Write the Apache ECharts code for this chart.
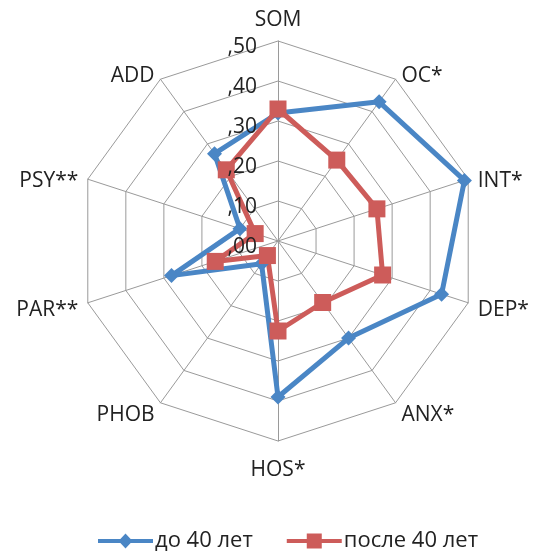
<!DOCTYPE html>
<html>
<head>
<meta charset="utf-8">
<script src="https://cdn.jsdelivr.net/npm/echarts@6/dist/echarts.min.js"></script>
<style>
html,body{margin:0;padding:0;background:#fff;}
#chart{width:533px;height:551px;}
</style>
</head>
<body>
<div id="chart"></div>
<script>
const categories = ['SOM','OC*','INT*','DEP*','ANX*','HOS*','PHOB','PAR**','PSY**','ADD'];
const seriesNames = ['до 40 лет','после 40 лет'];
const valuesUnder40 = [0.32,0.43,0.49,0.43,0.30,0.39,0.07,0.28,0.10,0.27];
const valuesOver40  = [0.33,0.25,0.26,0.275,0.19,0.225,0.045,0.165,0.06,0.22];
const tickValues = [0,0.1,0.2,0.3,0.4,0.5];
const tickLabels = [',00',',10',',20',',30',',40',',50'];

// ECharts radar places indicators counter-clockwise; reorder so they run clockwise
const order = [0].concat(categories.map((_, i) => i).slice(1).reverse());
const reorder = arr => order.map(i => arr[i]);

const FONT = '"Open Sans", "Noto Sans", sans-serif';
const blue = '#4a86c5', red = '#cd5c5a';
const iconDiamond = 'path://M0,5.5 L55,5.5 L55,9.5 L0,9.5 Z M27.5,0 L34.5,7.5 L27.5,15 L20.5,7.5 Z';
const iconSquare  = 'path://M0,5.5 L55,5.5 L55,9.5 L0,9.5 Z M20,0 L35,0 L35,15 L20,15 Z';

const chart = echarts.init(document.getElementById('chart'), null, {renderer:'canvas'});
chart.setOption({
  backgroundColor:'#fff',
  animation:false,
  textStyle:{fontFamily:FONT},
  legend:{
    left:93, top:525,
    itemWidth:55, itemHeight:15, itemGap:34,
    textStyle:{fontSize:22, color:'#222', fontFamily:FONT, padding:[0,0,0,-3]},
    data:[{name:seriesNames[0], icon:iconDiamond},{name:seriesNames[1], icon:iconSquare}]
  },
  radar:{
    center:[278,241], radius:200,
    startAngle:90,
    shape:'polygon',
    min:0, max:0.5, splitNumber:5,
    indicator:reorder(categories).map(n=>({name:n, min:0, max:0.5})),
    axisName:{
      color:'#222', fontSize:21, fontFamily:FONT,
      formatter:(name)=> name===categories[0] ? '{t|'+name+'}' : '{n|'+name+'}',
      rich:{
        t:{fontSize:21, fontFamily:FONT, color:'#222'},
        n:{fontSize:21, fontFamily:FONT, color:'#222', padding:[9,0,0,0]}
      }
    },
    nameGap:10,
    axisLine:{lineStyle:{color:'#9a9a9a', width:1}},
    splitLine:{lineStyle:{color:'#9a9a9a', width:1}},
    splitArea:{show:false},
    axisLabel:{show:false}
  },
  polar:{center:[278,241], radius:200},
  angleAxis:{type:'value', startAngle:90, min:0, max:360, show:false},
  radiusAxis:{
    type:'value', min:0, max:0.5, interval:0.1, z:10, zlevel:1,
    axisLine:{show:false}, axisTick:{show:false}, splitLine:{show:false},
    axisLabel:{
      color:'#222', fontSize:21, fontFamily:FONT, margin:21,
      formatter:(v)=>{const i=tickValues.findIndex(t=>Math.abs(t-v)<1e-6); return i>=0?'{a|'+tickLabels[i]+'}':'';},
      rich:{a:{fontSize:21, fontFamily:FONT, color:'#222', padding:[12,0,0,0]}}
    }
  },
  series:[{
    type:'radar',
    data:[
      {name:seriesNames[0], value:reorder(valuesUnder40),
       symbol:'diamond', symbolSize:15,
       lineStyle:{color:blue, width:5},
       itemStyle:{color:blue}},
      {name:seriesNames[1], value:reorder(valuesOver40),
       symbol:'rect', symbolSize:17,
       lineStyle:{color:red, width:5},
       itemStyle:{color:red}}
    ]
  }]
});
</script>
</body>
</html>
